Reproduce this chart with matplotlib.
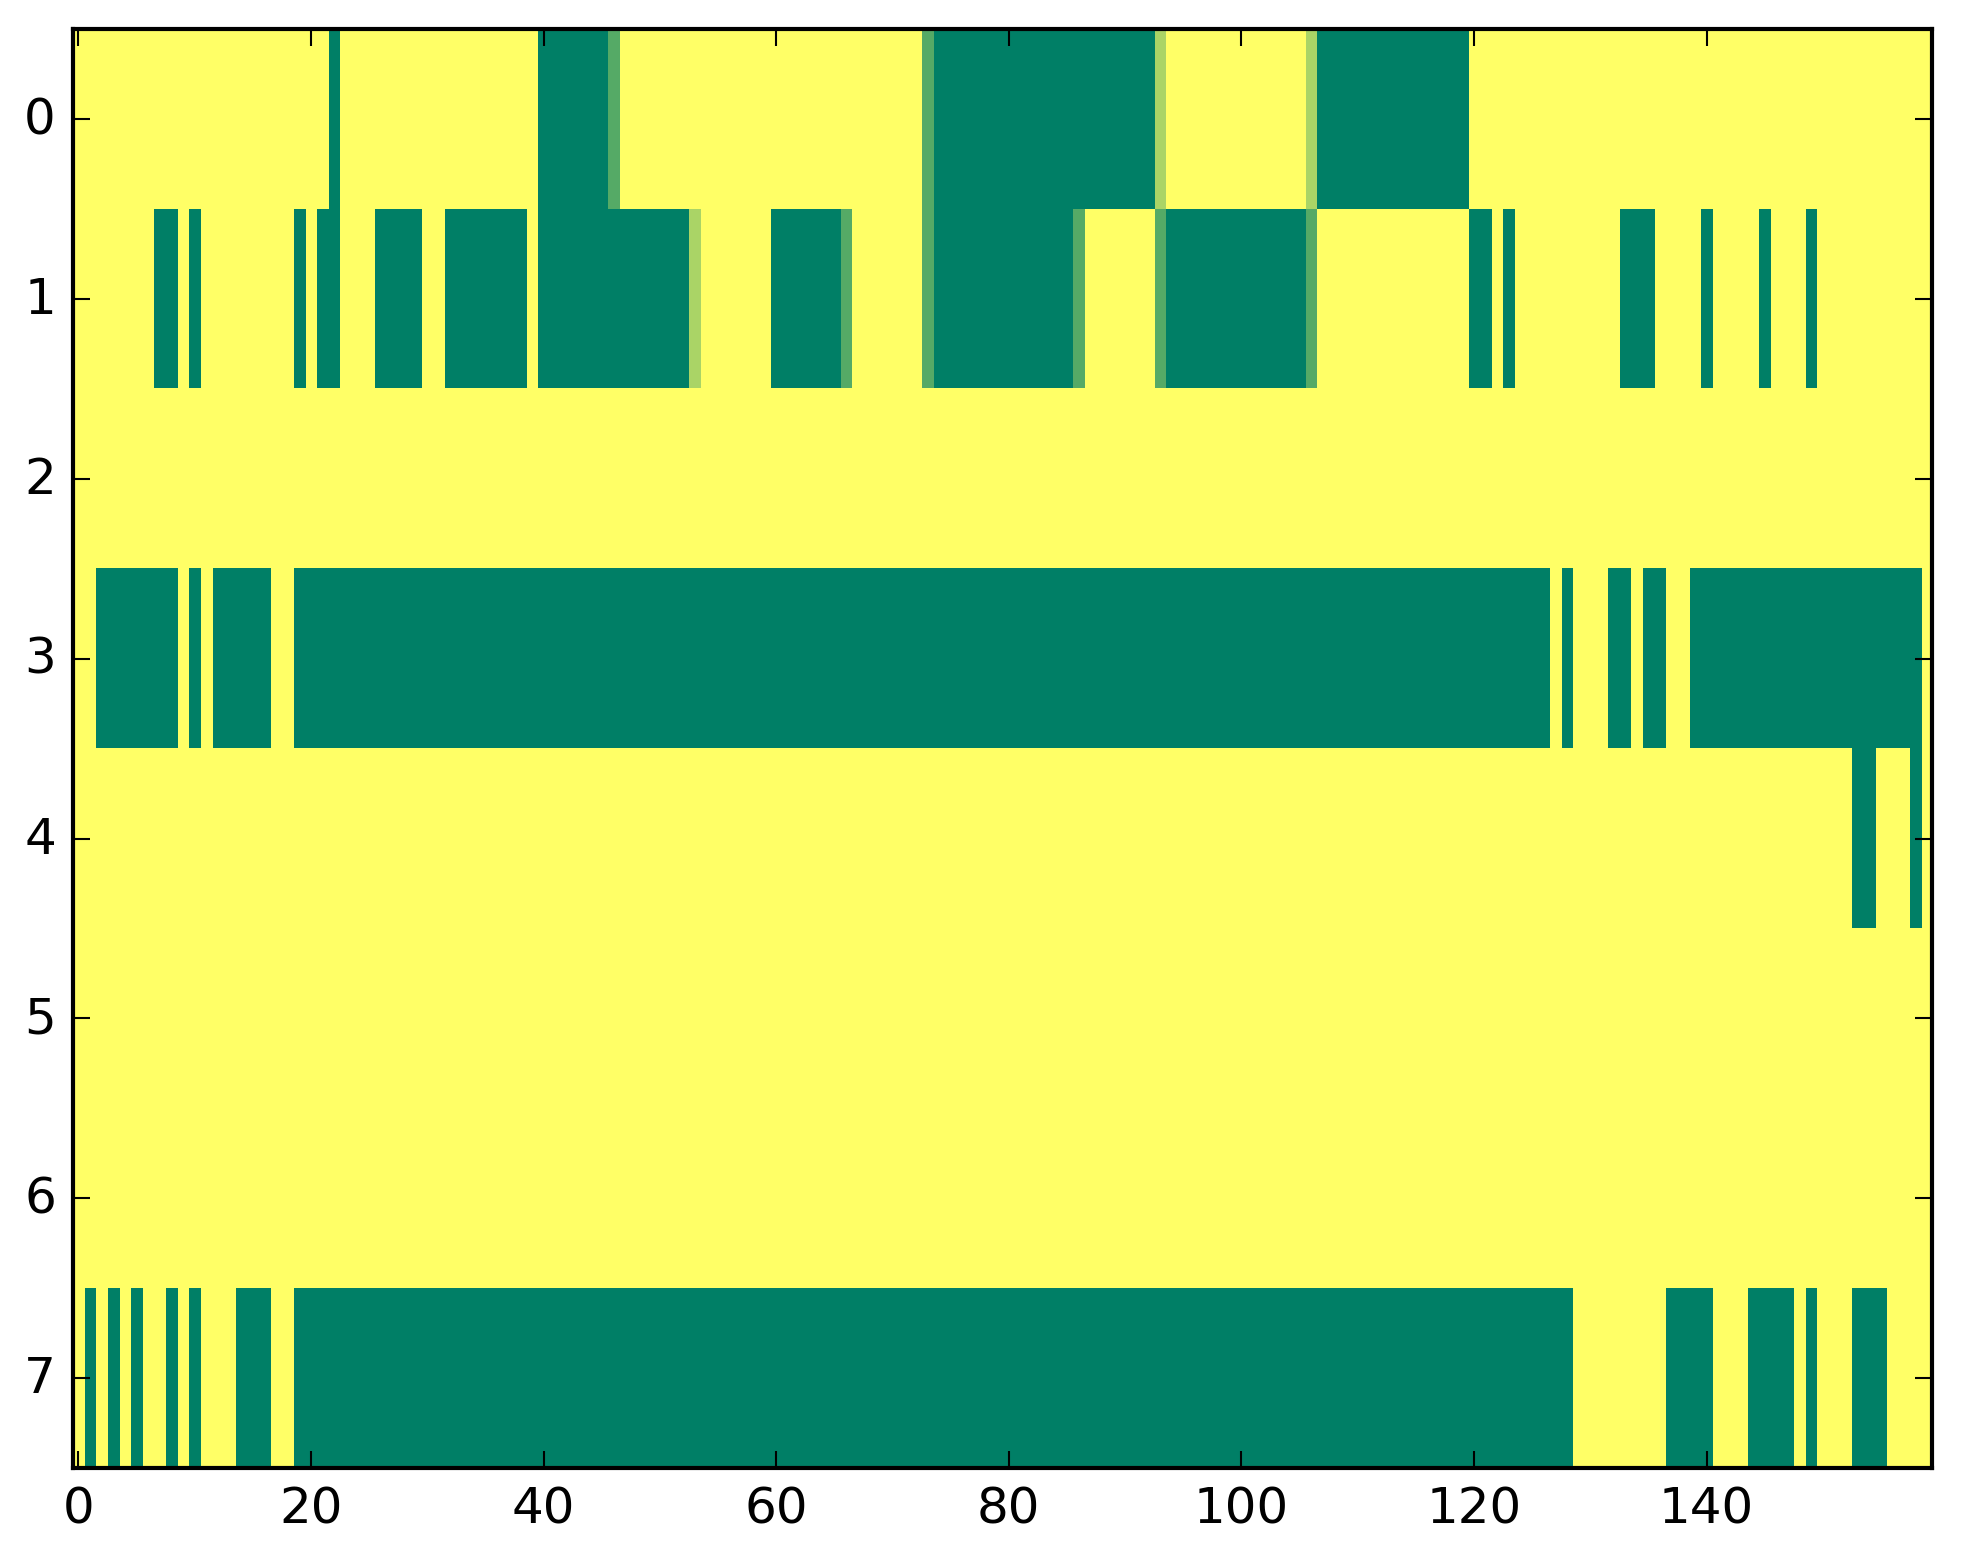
import numpy as np
import matplotlib
matplotlib.use("Agg")
import matplotlib.pyplot as plt

plt.style.use("classic")

n_rows = 8
n_cols = 160

# green runs (value 0) per row, inclusive column ranges; everything else is 1 (yellow)
green_runs = {
    0: [(22, 22), (40, 45), (74, 92), (107, 119)],
    1: [(7, 8), (10, 10), (19, 19), (21, 22), (26, 29), (32, 38), (40, 52),
        (60, 65), (74, 85), (94, 105), (120, 121), (123, 123), (133, 135),
        (140, 140), (145, 145), (149, 149)],
    2: [],
    3: [(2, 8), (10, 10), (12, 16), (19, 126), (128, 128), (132, 133),
        (135, 136), (139, 158)],
    4: [(153, 154), (158, 158)],
    5: [],
    6: [],
    7: [(1, 1), (3, 3), (5, 5), (8, 8), (10, 10), (14, 16), (19, 128),
        (137, 140), (144, 147), (149, 149), (153, 155)],
}

# cells with in-between values
partial_cells = {
    0: {46: 1 / 3, 73: 1 / 3, 93: 2 / 3, 106: 2 / 3},
    1: {53: 2 / 3, 66: 1 / 3, 73: 1 / 3, 86: 1 / 3, 93: 1 / 3, 106: 1 / 3},
}

data = np.ones((n_rows, n_cols))
for r, runs in green_runs.items():
    for a, b in runs:
        data[r, a:b + 1] = 0.0
for r, cells in partial_cells.items():
    for c, v in cells.items():
        data[r, c] = v

fig = plt.figure(figsize=(1963 / 300, 1564 / 300), dpi=300)
ax = fig.add_axes([0.037, 0.0607, 0.947, 0.920])
ax.imshow(data, cmap="summer", vmin=0, vmax=1, aspect="auto",
          interpolation="nearest")
ax.set_xlim(-0.5, 159.35)
ax.set_ylim(7.5, -0.5)
ax.set_xticks(np.arange(0, 141, 20))
ax.set_yticks(np.arange(0, 8))

fig.savefig("out.png", dpi=300, facecolor="white")
